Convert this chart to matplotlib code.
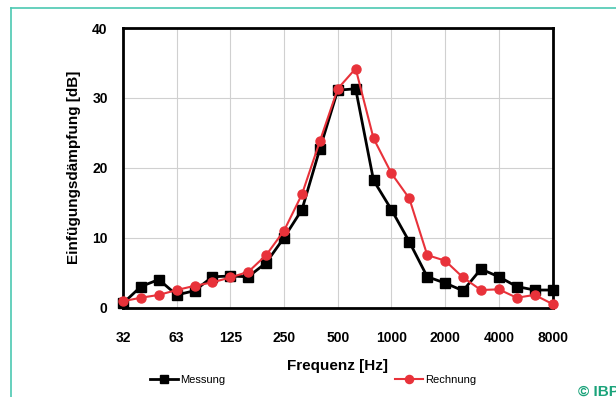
import numpy as np
import matplotlib
matplotlib.use("Agg")
import matplotlib.pyplot as plt
from matplotlib.lines import Line2D

plt.rcParams['font.family'] = ['Liberation Sans', 'DejaVu Sans']

# Terzband-Mittenfrequenzen 32 Hz .. 8000 Hz
frequenzen = [32, 40, 50, 63, 80, 100, 125, 160, 200, 250, 315, 400, 500,
              630, 800, 1000, 1250, 1600, 2000, 2500, 3150, 4000, 5000, 6300, 8000]
tick_labels = ['32', '63', '125', '250', '500', '1000', '2000', '4000', '8000']

messung = [0.6, 3.0, 4.0, 1.8, 2.4, 4.4, 4.5, 4.4, 6.4, 10.0, 14.0, 22.7, 31.1,
           31.3, 18.2, 14.0, 9.4, 4.4, 3.5, 2.4, 5.5, 4.4, 3.0, 2.5, 2.5]
rechnung = [0.9, 1.4, 1.8, 2.5, 3.1, 3.6, 4.3, 5.1, 7.5, 11.0, 16.2, 23.8, 31.3,
            34.2, 24.2, 19.2, 15.6, 7.5, 6.7, 4.3, 2.5, 2.6, 1.4, 1.8, 0.5]

W, H = 616, 397
fig = plt.figure(figsize=(W / 100, H / 100), dpi=100)
ax = fig.add_axes([123 / W, 1 - 307.5 / H, (552.5 - 123) / W, (307.5 - 28) / H])

x = np.arange(len(frequenzen))
ax.plot(x, messung, color='black', lw=2, marker='s', ms=6.5,
        label='Messung', clip_on=False, zorder=3)
ax.plot(x, rechnung, color='#e8323a', lw=1.5, marker='o', ms=6.5,
        label='Rechnung', clip_on=False, zorder=4)

ax.set_xlim(0, len(frequenzen) - 1)
ax.set_ylim(0, 40)
ax.set_xticks(x[::3])
ax.set_xticklabels(tick_labels)
ax.set_yticks([0, 10, 20, 30, 40])
ax.tick_params(length=0, labelsize=10)
ax.tick_params(axis='x', pad=17)
ax.tick_params(axis='y', pad=11)
for lab in ax.get_xticklabels() + ax.get_yticklabels():
    lab.set_fontweight('bold')

ax.grid(True, color='#d0d0d0', lw=0.8)
ax.set_axisbelow(True)
for s in ax.spines.values():
    s.set_linewidth(2)

ax.set_xlabel('Frequenz [Hz]', fontsize=11, fontweight='bold', labelpad=10)
ax.set_ylabel('Einfügungsdämpfung [dB]', fontsize=11, fontweight='bold', labelpad=8)

fig.legend(loc='center left', bbox_to_anchor=(150 / W, 1 - 380 / H), ncol=2,
           frameon=False, fontsize=8, handlelength=2.5, handletextpad=0.2,
           columnspacing=15.3, borderpad=0, borderaxespad=0, markerscale=0.9)

# teal frame
teal = '#4cc8b2'
fig.add_artist(Line2D([11 / W, 11 / W], [0, 1 - 8 / H], color=teal, lw=1.2))
fig.add_artist(Line2D([11 / W, 1], [1 - 8 / H, 1 - 8 / H], color=teal, lw=1.2))

fig.text(578 / W, 1 - 392 / H, '© IBP', color='#1aa37a', fontsize=11,
         fontweight='bold', va='center', ha='left')

fig.savefig('out.png', dpi=100)
